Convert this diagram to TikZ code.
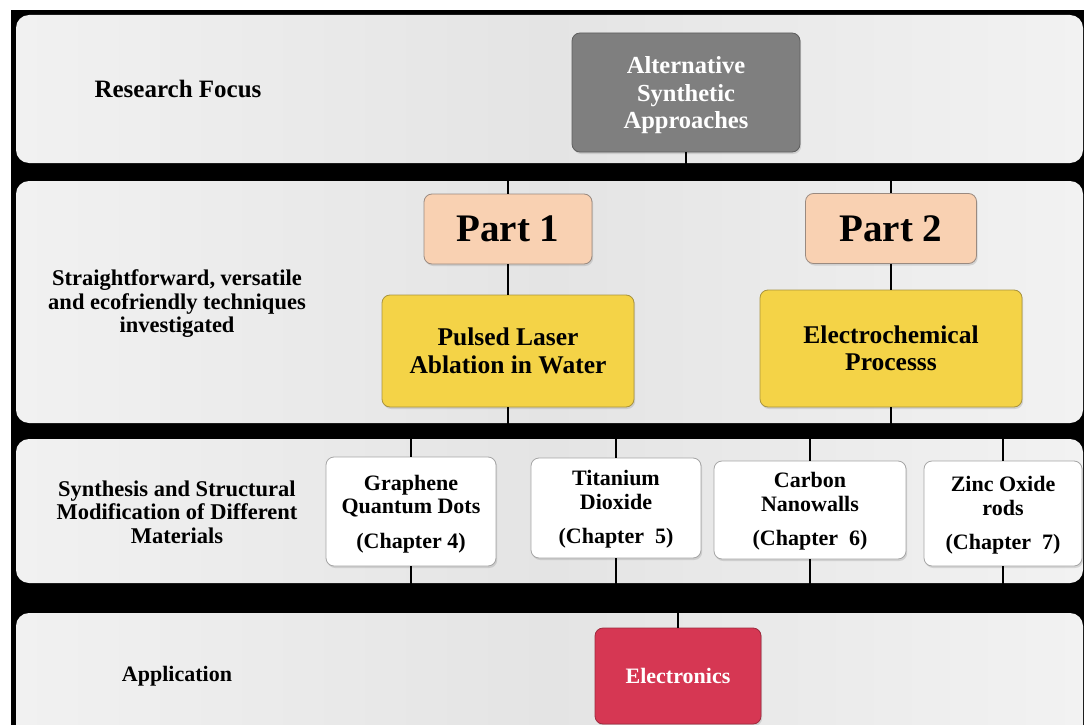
\documentclass[tikz,border=0pt]{standalone}
\usepackage{fontspec}
\setmainfont{Liberation Serif}
\usetikzlibrary{shadows}
\definecolor{bandL}{HTML}{F1F1F1}
\definecolor{bandM}{HTML}{E4E4E4}
\definecolor{bandR}{HTML}{F2F2F2}
\definecolor{altfill}{HTML}{7F7F7F}
\definecolor{altdraw}{HTML}{5E5E5E}
\definecolor{peach}{HTML}{F9D1B2}
\definecolor{peachdraw}{HTML}{9A8A80}
\definecolor{yell}{HTML}{F4D347}
\definecolor{yelldraw}{HTML}{A8933E}
\definecolor{crim}{HTML}{D63753}
\definecolor{crimdraw}{HTML}{9E2A3E}
\definecolor{whitedraw}{HTML}{A5A5A5}
\newcommand{\topgap}[1]{\rule{0pt}{\dimexpr0.69em+#1\relax}}
\tikzset{
  band/.style={rounded corners=13pt, left color=bandL, right color=bandR, middle color=bandM},
  box/.style={rounded corners=8pt, draw, line width=0.8pt, align=center, inner sep=2pt,
    drop shadow={shadow xshift=1.2pt, shadow yshift=-2pt, opacity=0.25}},
  altbox/.style={box, fill=altfill, draw=altdraw, text=white,
    font=\fontsize{24.5}{27.5}\selectfont\bfseries},
  partbox/.style={box, fill=peach, draw=peachdraw, font=\fontsize{39}{42}\selectfont\bfseries},
  methbox/.style={box, fill=yell, draw=yelldraw, font=\fontsize{25.5}{27.5}\selectfont\bfseries},
  chapbox/.style={box, fill=white, draw=whitedraw, font=\fontsize{22}{23.5}\selectfont\bfseries},
  appbox/.style={box, fill=crim, draw=crimdraw, text=white, font=\fontsize{22}{24}\selectfont\bfseries},
  lefttext/.style={align=center, font=\fontsize{22.5}{23.5}\selectfont\bfseries},
  conn/.style={line width=2.6pt, black}
}
\begin{document}
\begin{tikzpicture}[x=1pt,y=-1pt]
\useasboundingbox (0,0) rectangle (1084,725);
\clip (0,0) rectangle (1084,725);
\fill[white] (0,0) rectangle (1084,725);
\fill[black] (11,10) rectangle (1084,725);
% bands
\path[band] (16,15) rectangle (1083,163);
\path[band] (16,181) rectangle (1083,423);
\path[band] (16,439) rectangle (1083,583);
\path[band] (16,613) rectangle (1083,760);
% left labels
\node[lefttext, font=\fontsize{25}{27}\selectfont\bfseries] (l1) at (178,89) {Research Focus};
\node[lefttext] (l2) at (177,304) {Straightforward, versatile\\and ecofriendly techniques\\investigated};
\node[lefttext] (l3) at (177,512) {Synthesis and Structural\\Modification of Different\\Materials};
\node[lefttext, font=\fontsize{22}{24}\selectfont\bfseries] (l4) at (177,676) {Application};
% boxes
\node[altbox, minimum width=228pt, minimum height=119pt] (alt) at (686,92.5) {\topgap{6pt}Alternative\\Synthetic\\Approaches};
\node[partbox, minimum width=168pt, minimum height=70pt] (part1) at (508,229) {Part 1};
\node[partbox, minimum width=171pt, minimum height=70pt] (part2) at (891,228.5) {Part 2};
\node[methbox, minimum width=252pt, minimum height=112pt] (pla) at (508,351) {Pulsed Laser\\Ablation in Water};
\node[methbox, minimum width=262pt, minimum height=117pt] (ec) at (891,348.5) {Electrochemical\\Processs};
\node[chapbox, minimum width=170pt, minimum height=109pt] (gqd) at (411,511.5) {\topgap{5pt}Graphene\\Quantum Dots\\[11pt](Chapter 4)};
\node[chapbox, minimum width=170pt, minimum height=100pt] (tio) at (616,508) {\topgap{3pt}Titanium\\Dioxide\\[11pt](Chapter\ \ 5)};
\node[chapbox, minimum width=192pt, minimum height=98pt] (cnw) at (810,510) {\topgap{3pt}Carbon\\Nanowalls\\[11pt](Chapter\ \ 6)};
\node[chapbox, minimum width=158pt, minimum height=105pt] (zno) at (1003,513.5) {\topgap{4pt}Zinc Oxide\\rods\\[11pt](Chapter\ \ 7)};
\node[appbox, minimum width=166pt, minimum height=96pt] (elec) at (678,676) {Electronics};
% gap coordinates
\coordinate (g1) at (0,172);
\coordinate (g2) at (0,431);
\coordinate (g3) at (0,598);
% connectors
\draw[conn] (alt.south) -- (alt.south |- g1) -| (part1.north);
\draw[conn] (alt.south |- g1) -| (part2.north);
\draw[conn] (part1.south) -- (pla.north);
\draw[conn] (part2.south) -- (ec.north);
\draw[conn] (pla.south) -- (pla.south |- g2) -| (gqd.north);
\draw[conn] (pla.south |- g2) -| (tio.north);
\draw[conn] (ec.south) -- (ec.south |- g2) -| (cnw.north);
\draw[conn] (ec.south |- g2) -| (zno.north);
\draw[conn] (gqd.south) -- (gqd.south |- g3) -| (elec.north);
\draw[conn] (tio.south) -- (tio.south |- g3);
\draw[conn] (cnw.south) -- (cnw.south |- g3);
\draw[conn] (zno.south) -- (zno.south |- g3);
\end{tikzpicture}
\end{document}
